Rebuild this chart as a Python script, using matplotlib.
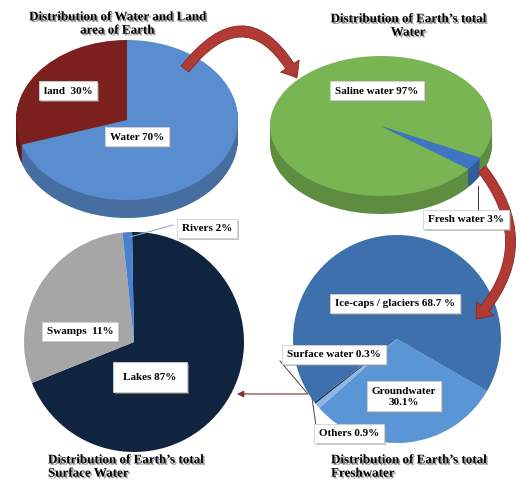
import matplotlib
matplotlib.use('Agg')
import matplotlib.pyplot as plt
import matplotlib.patheffects as pe
from matplotlib.colors import to_rgb
from matplotlib.patches import FancyArrowPatch
from matplotlib.transforms import Affine2D

W, H = 520, 481

# Earth: water vs land
area_labels = ['land  30%', 'Water 70%']
area_share = [30, 70]
area_colors = ['#7b201d', '#5a8dcf']

# Earth's total water
total_labels = ['Saline water 97%', 'Fresh water 3%']
total_share = [97, 3]
total_colors = ['#79b553', '#4075c4']

# surface water (wedge sizes as drawn in the picture)
surface_labels = ['Lakes 87%', 'Swamps  11%', 'Rivers 2%']
surface_share = [69.2, 29.4, 1.4]
surface_colors = ['#10243f', '#a6a6a6', '#4a80d0']

# freshwater
fresh_labels = ['Groundwater\n30.1%', 'Others 0.9%', 'Surface water 0.3%',
                'Ice-caps / glaciers 68.7 %']
fresh_share = [30.1, 0.9, 0.3, 68.7]
fresh_colors = ['#5a95d6', '#90b7e4', '#17365d', '#3d70ad']

fig = plt.figure(figsize=(W / 100, H / 100), dpi=100)
ax = fig.add_axes([0, 0, 1, 1])


def draw_pie(share, colors, cx, cy, rx, ry, depth, start, ccw=True):
    cy = H - cy

    def layer(yc, cols):
        wedges, _ = ax.pie(share, colors=cols, center=(cx, yc), radius=rx,
                           startangle=start, counterclock=ccw,
                           wedgeprops=dict(linewidth=0))
        squash = Affine2D().translate(-cx, -yc).scale(1, ry / rx).translate(cx, yc)
        for w in wedges:
            w.set_transform(squash + ax.transData)

    side = [tuple(c * 0.78 for c in to_rgb(col)) for col in colors]
    for k in range(depth, 0, -1):
        layer(cy - k, side)
    layer(cy, colors)


draw_pie(area_share, area_colors, 127, 121, 111, 80, 18, 90)
draw_pie(total_share, total_colors, 381, 127, 111, 70, 18, -27)
draw_pie(surface_share, surface_colors, 134, 343, 110, 110, 0, 91, ccw=False)
draw_pie(fresh_share, fresh_colors, 397, 340, 104, 104, 0, -30, ccw=False)

ax.set_xlim(0, W)
ax.set_ylim(0, H)
ax.set_aspect('auto')
ax.axis('off')

box_shadow = [pe.SimplePatchShadow(offset=(1.5, -1.5), shadow_rgbFace='#9a9a9a', alpha=0.6),
              pe.Normal()]


def label(x, y, s, pad=0.45):
    t = ax.text(x, H - y, s, ha='center', va='center', fontsize=8,
                fontweight='bold', family='Liberation Serif',
                bbox=dict(boxstyle='square,pad=%s' % pad, fc='white',
                          ec='#d0d0d0', lw=0.6), zorder=6)
    t.get_bbox_patch().set_path_effects(box_shadow)


label(68, 91, area_labels[0])
label(137, 137, area_labels[1])
label(377, 91, total_labels[0])
label(466, 220, total_labels[1])
label(150, 378, surface_labels[0], pad=0.95)
label(80, 332, surface_labels[1])
label(207, 229, surface_labels[2])
label(404, 397, fresh_labels[0])
label(349, 434, fresh_labels[1])
label(334, 355, fresh_labels[2])
label(395, 304, fresh_labels[3])

# leader lines
ax.plot([478, 478], [H - 187, H - 211], color='#333333', lw=0.7)
ax.plot([130, 173], [H - 238, H - 226], color='#8ea9c8', lw=0.8)
ax.plot([280, 308], [H - 362, H - 395], color='#444444', lw=0.7)
ax.plot([316, 312], [H - 427, H - 399], color='#444444', lw=0.7)

# titles
shadow = [pe.SimplePatchShadow(offset=(1.2, -1.2), shadow_rgbFace='#555555', alpha=0.55),
          pe.Normal()]
tkw = dict(fontsize=9.4, fontweight='bold', family='Liberation Serif',
           linespacing=1.15, path_effects=shadow, zorder=7)
ax.text(117, H - 25, 'Distribution of Water and Land\narea of Earth', ha='center', va='center', **tkw)
ax.text(408, H - 27, 'Distribution of Earth\u2019s total\nWater', ha='center', va='center', **tkw)
ax.text(48, H - 468, 'Distribution of Earth\u2019s total\nSurface Water', ha='left', va='center', **tkw)
ax.text(331, H - 468, 'Distribution of Earth\u2019s total\nFreshwater', ha='left', va='center', **tkw)

# arrows
big = dict(arrowstyle='simple,head_length=1.0,head_width=1.6,tail_width=0.7',
           mutation_scale=10, fc='#b23a35', ec='#8c2723', lw=0.6, zorder=4,
           shrinkA=0, shrinkB=0)
ax.add_patch(FancyArrowPatch((185, H - 70), (297, H - 79),
                             connectionstyle='arc3,rad=-0.75', **big))
ax.add_patch(FancyArrowPatch((482, H - 170), (476, H - 320),
                             connectionstyle='arc3,rad=-0.42', **big))
ax.add_patch(FancyArrowPatch((307, H - 395), (237, H - 395),
                             arrowstyle='-|>,head_length=0.5,head_width=0.25',
                             mutation_scale=8, color='#8b2b2b', lw=0.8,
                             shrinkA=0, shrinkB=0, zorder=4))

fig.savefig('out.png', dpi=100)
